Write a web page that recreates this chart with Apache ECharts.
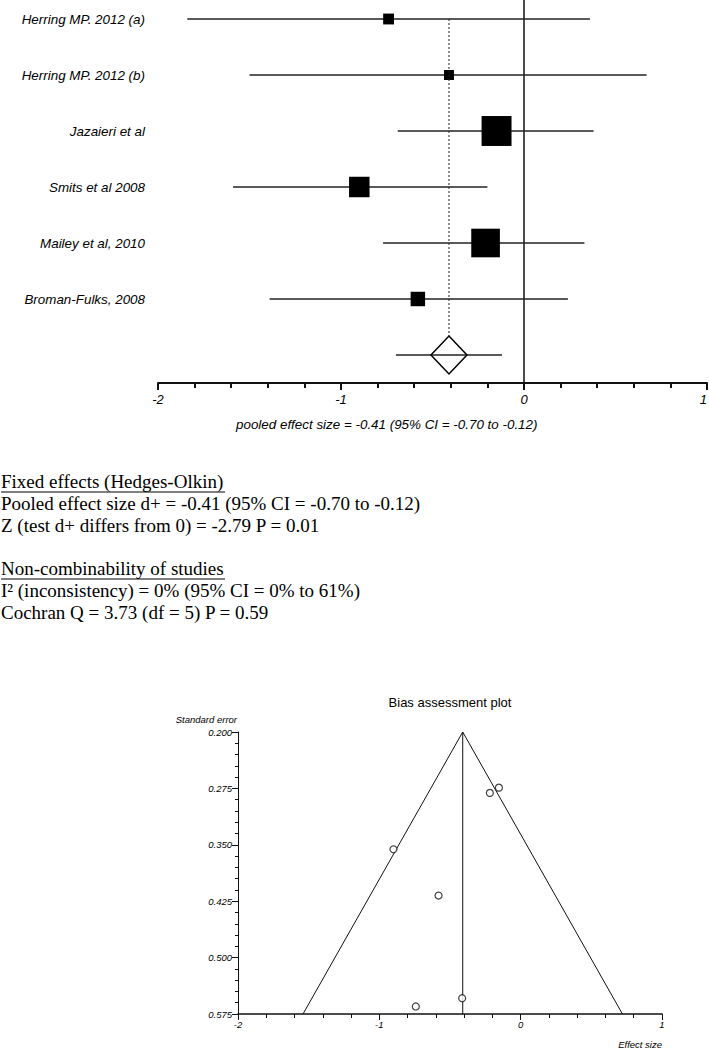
<!DOCTYPE html>
<html><head><meta charset="utf-8">
<script src="https://cdn.jsdelivr.net/npm/echarts@6/dist/echarts.min.js"></script>
<style>html,body{margin:0;padding:0;background:#fff}#c{width:709px;height:1048px}</style>
</head><body><div id="c"></div>
<script>
// ---- Forest plot data ----
const studies = ['Herring MP. 2012 (a)', 'Herring MP. 2012 (b)', 'Jazaieri et al', 'Smits et al 2008', 'Mailey et al, 2010', 'Broman-Fulks, 2008'];
const effect  = [-0.74, -0.41, -0.15, -0.90, -0.21, -0.58];
const ciLow   = [-1.84, -1.50, -0.69, -1.59, -0.77, -1.39];
const ciHigh  = [0.36, 0.67, 0.38, -0.20, 0.33, 0.24];
const weight  = [6.8, 5.8, 29, 18, 27.5, 11];
const pooled = -0.41, pooledLow = -0.70, pooledHigh = -0.12;
const forestTicks = ['-2', '-1', '0', '1'];

// ---- Funnel (bias assessment) data ----
const funnelEffect = [-0.742, -0.414, -0.154, -0.900, -0.218, -0.581];
const funnelSE     = [0.565, 0.554, 0.274, 0.356, 0.281, 0.4175];
const funnelLeft   = [-0.41, -1.54];
const funnelRight  = [-0.41, 0.72];
const funnelSEEnds = [0.200, 0.575];

// ---- Text ----
const pooledText = 'pooled effect size = -0.41 (95% CI = -0.70 to -0.12)';
const fixedLines = ['Fixed effects (Hedges-Olkin)', 'Pooled effect size d+ = -0.41 (95% CI = -0.70 to -0.12)', 'Z (test d+ differs from 0) = -2.79 P = 0.01'];
const nonCombLines = ['Non-combinability of studies', 'I\u00B2 (inconsistency) = 0% (95% CI = 0% to 61%)', 'Cochran Q = 3.73 (df = 5) P = 0.59'];

const SANS = '"Liberation Sans", Arial, sans-serif';
const SERIF = '"Liberation Serif", "Times New Roman", serif';
const INK = '#000';

const chart = echarts.init(document.getElementById('c'), null, {renderer: 'svg'});

const studyData = studies.map((s, i) => [i + 1, effect[i], ciLow[i], ciHigh[i], weight[i]]);

const serif19 = {fontFamily: SERIF, fontSize: 19, fill: INK};
const graphics = [];
const addLines = (lines, y0) => {
  lines.forEach((t, i) => {
    graphics.push({type: 'text', left: 1, top: y0 + i * 22 - 11, style: Object.assign({text: t}, serif19)});
  });
};
addLines(fixedLines, 483);
addLines(nonCombLines, 570);
graphics.push({type: 'line', shape: {x1: 1, y1: 492, x2: 225, y2: 492}, style: {stroke: INK, lineWidth: 1}});
graphics.push({type: 'line', shape: {x1: 1, y1: 579, x2: 225, y2: 579}, style: {stroke: INK, lineWidth: 1}});
graphics.push({type: 'text', left: 236, top: 418, style: {text: pooledText, fontFamily: SANS, fontStyle: 'italic', fontSize: 13.4, fill: INK}});
graphics.push({type: 'text', x: 450, y: 702, style: {text: 'Bias assessment plot', fontFamily: SANS, fontSize: 13, fill: INK, align: 'center', verticalAlign: 'middle'}});
graphics.push({type: 'text', x: 237, y: 719, style: {text: 'Standard error', fontFamily: SANS, fontStyle: 'italic', fontSize: 9.5, fill: INK, align: 'right', verticalAlign: 'middle'}});
graphics.push({type: 'text', x: 662, y: 1044, style: {text: 'Effect size', fontFamily: SANS, fontStyle: 'italic', fontSize: 9.5, fill: INK, align: 'right', verticalAlign: 'middle'}});

const option = {
  animation: false,
  backgroundColor: '#fff',
  grid: [
    {left: 158, top: -9, width: 549, height: 392, outerBoundsMode: 'none', containLabel: false},
    {left: 238, top: 732, width: 424, height: 282, outerBoundsMode: 'none', containLabel: false}
  ],
  xAxis: [
    {
      gridIndex: 0, type: 'value', min: -2, max: 1, interval: 1,
      axisLine: {show: true, onZero: false, lineStyle: {color: '#111', width: 2}},
      axisTick: {show: true, length: 7, lineStyle: {color: '#111', width: 2}},
      minorTick: {show: true, splitNumber: 5, length: 5, lineStyle: {color: '#111', width: 2}},
      splitLine: {show: false}, minorSplitLine: {show: false},
      axisLabel: {margin: 10, fontFamily: SANS, fontStyle: 'italic', fontSize: 13, color: INK,
        formatter: v => { const i = Math.round(v) + 2; return forestTicks[i] !== undefined ? forestTicks[i] : ''; },
        showMinLabel: true, showMaxLabel: true, hideOverlap: false, alignMaxLabel: 'right'}
    },
    {
      gridIndex: 1, type: 'value', min: -2, max: 1, interval: 1,
      axisLine: {show: true, onZero: false, lineStyle: {color: '#111', width: 1.5}},
      axisTick: {show: true, length: 6, lineStyle: {color: '#111', width: 1}},
      minorTick: {show: true, splitNumber: 5, length: 4, lineStyle: {color: '#111', width: 1}},
      splitLine: {show: false}, minorSplitLine: {show: false},
      axisLabel: {margin: 5, fontFamily: SANS, fontStyle: 'italic', fontSize: 9.5, color: INK,
        formatter: v => String(Math.round(v)), showMinLabel: true, showMaxLabel: true}
    }
  ],
  yAxis: [
    {gridIndex: 0, type: 'value', min: 0.5, max: 7.5, inverse: true, show: false},
    {
      gridIndex: 1, type: 'value', min: 0.2, max: 0.575, interval: 0.075, inverse: true,
      axisLine: {show: true, onZero: false, lineStyle: {color: '#111', width: 1}},
      axisTick: {show: true, length: 6, lineStyle: {color: '#111', width: 1}},
      minorTick: {show: true, splitNumber: 5, length: 3, lineStyle: {color: '#111', width: 1}},
      splitLine: {show: false}, minorSplitLine: {show: false},
      axisLabel: {margin: 6, fontFamily: SANS, fontStyle: 'italic', fontSize: 9.5, color: INK,
        formatter: v => v.toFixed(3), showMinLabel: true, showMaxLabel: true}
    }
  ],
  graphic: graphics,
  series: [
    // zero line
    {type: 'line', xAxisIndex: 0, yAxisIndex: 0, data: [[0, 0.5], [0, 7.5]], symbol: 'none',
      lineStyle: {color: '#111', width: 1.5}, silent: true, z: 1},
    // studies
    {
      type: 'custom', xAxisIndex: 0, yAxisIndex: 0, data: studyData,
      encode: {x: [1, 2, 3], y: 0}, z: 3,
      renderItem: function (params, api) {
        const row = api.value(0), est = api.value(1), lo = api.value(2), hi = api.value(3), w = api.value(4);
        const pL = api.coord([lo, row]), pH = api.coord([hi, row]), pE = api.coord([est, row]);
        const left = api.coord([-2, row]);
        const s = 5 + 0.86 * w;
        return {type: 'group', children: [
          {type: 'line', shape: {x1: pL[0], y1: pL[1], x2: pH[0], y2: pH[1]}, style: {stroke: '#222', lineWidth: 1.5}},
          {type: 'rect', shape: {x: pE[0] - s / 2, y: pE[1] - s / 2, width: s, height: s}, style: {fill: '#000'}},
          {type: 'text', x: left[0] - 13, y: pE[1], style: {text: studies[params.dataIndex], align: 'right', verticalAlign: 'middle',
            fontFamily: SANS, fontStyle: 'italic', fontSize: 13.4, fill: INK}}
        ]};
      }
    },
    // pooled diamond + dotted reference
    {
      type: 'custom', xAxisIndex: 0, yAxisIndex: 0, data: [[studies.length + 1, pooled, pooledLow, pooledHigh]],
      encode: {x: [1, 2, 3], y: 0}, z: 3,
      renderItem: function (params, api) {
        const row = api.value(0), est = api.value(1), lo = api.value(2), hi = api.value(3);
        const pL = api.coord([lo, row]), pH = api.coord([hi, row]), pE = api.coord([est, row]);
        const top = api.coord([est, 1]);
        const hw = 18, hh = 19;
        return {type: 'group', children: [
          {type: 'line', shape: {x1: top[0], y1: top[1], x2: pE[0], y2: pE[1] - hh}, style: {stroke: '#222', lineWidth: 1, lineDash: [2, 2]}},
          {type: 'line', shape: {x1: pL[0], y1: pL[1], x2: pH[0], y2: pH[1]}, style: {stroke: '#222', lineWidth: 1.5}},
          {type: 'polygon', shape: {points: [[pE[0], pE[1] - hh], [pE[0] + hw, pE[1]], [pE[0], pE[1] + hh], [pE[0] - hw, pE[1]]]},
            style: {fill: 'none', stroke: '#000', lineWidth: 1.5}}
        ]};
      }
    },
    // funnel limits
    {type: 'line', xAxisIndex: 1, yAxisIndex: 1, symbol: 'none', silent: true,
      data: funnelLeft.map((x, i) => [x, funnelSEEnds[i]]), lineStyle: {color: '#111', width: 1}},
    {type: 'line', xAxisIndex: 1, yAxisIndex: 1, symbol: 'none', silent: true,
      data: funnelRight.map((x, i) => [x, funnelSEEnds[i]]), lineStyle: {color: '#111', width: 1}},
    {type: 'line', xAxisIndex: 1, yAxisIndex: 1, symbol: 'none', silent: true,
      data: funnelSEEnds.map(se => [pooled, se]), lineStyle: {color: '#111', width: 1}},
    // funnel points
    {type: 'scatter', xAxisIndex: 1, yAxisIndex: 1, symbol: 'circle', symbolSize: 7, z: 4,
      data: funnelEffect.map((x, i) => [x, funnelSE[i]]),
      itemStyle: {color: '#fff', borderColor: '#111', borderWidth: 1.2}}
  ]
};
chart.setOption(option);
</script>
</body></html>
